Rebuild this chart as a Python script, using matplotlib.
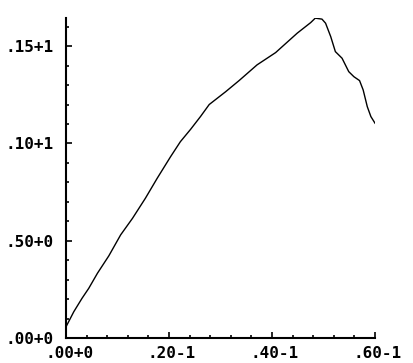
import matplotlib
matplotlib.use("Agg")
import matplotlib.pyplot as plt
import matplotlib.transforms as mtransforms
from matplotlib.ticker import FixedLocator, FixedFormatter, MultipleLocator

# curve
x = [0.0, 0.0015, 0.0031, 0.0044, 0.0061, 0.0083, 0.0106, 0.0129, 0.0154,
     0.0177, 0.0203, 0.0222, 0.0242, 0.0261, 0.0278, 0.0310, 0.0336, 0.0371,
     0.0407, 0.0420, 0.0449, 0.0475, 0.0484, 0.0497, 0.0504, 0.0514, 0.0523,
     0.0536, 0.0549, 0.0559, 0.0570, 0.0577, 0.0585, 0.0592, 0.0600]
y = [0.058, 0.135, 0.204, 0.255, 0.333, 0.422, 0.530, 0.615, 0.718,
     0.821, 0.932, 1.009, 1.073, 1.138, 1.200, 1.266, 1.323, 1.404,
     1.467, 1.498, 1.567, 1.621, 1.644, 1.639, 1.618, 1.549, 1.472,
     1.438, 1.369, 1.343, 1.323, 1.275, 1.189, 1.138, 1.104]

x_ticks = [0.0, 0.02, 0.04, 0.06]
x_labels = ['.00+0', '.20-1', '.40-1', '.60-1']
y_ticks = [0.0, 0.5, 1.0, 1.5]
y_labels = ['.00+0', '.50+0', '.10+1', '.15+1']

fig = plt.figure(figsize=(4.13, 3.63), dpi=100)
ax = fig.add_axes([0.160, 0.069, 0.748, 0.881])

ax.plot(x, y, color='black', linewidth=1.0)

ax.set_xlim(0, 0.06)
ax.set_ylim(0, max(y))

ax.spines['top'].set_visible(False)
ax.spines['right'].set_visible(False)
for s in ['left', 'bottom']:
    ax.spines[s].set_linewidth(1.5)

ax.xaxis.set_major_locator(FixedLocator(x_ticks))
ax.xaxis.set_major_formatter(FixedFormatter(x_labels))
ax.xaxis.set_minor_locator(MultipleLocator(0.004))
ax.yaxis.set_major_locator(FixedLocator(y_ticks))
ax.yaxis.set_major_formatter(FixedFormatter(y_labels))
ax.yaxis.set_minor_locator(MultipleLocator(0.1))

ax.tick_params(which='both', direction='in', width=1.2, color='black')
ax.tick_params(which='major', length=4.5)
ax.tick_params(which='minor', length=2.2)
ax.tick_params(axis='x', which='major', pad=6)
ax.tick_params(axis='y', which='major', pad=9)

# the x labels sit a little right of their ticks in the original
shift = mtransforms.ScaledTranslation(3 / 100, 0, fig.dpi_scale_trans)
for lab in ax.get_xticklabels():
    lab.set_transform(lab.get_transform() + shift)

for lab in ax.get_xticklabels() + ax.get_yticklabels():
    lab.set_fontfamily('DejaVu Sans Mono')
    lab.set_fontweight('bold')
    lab.set_fontsize(11.5)

fig.savefig('out.png', dpi=100)
